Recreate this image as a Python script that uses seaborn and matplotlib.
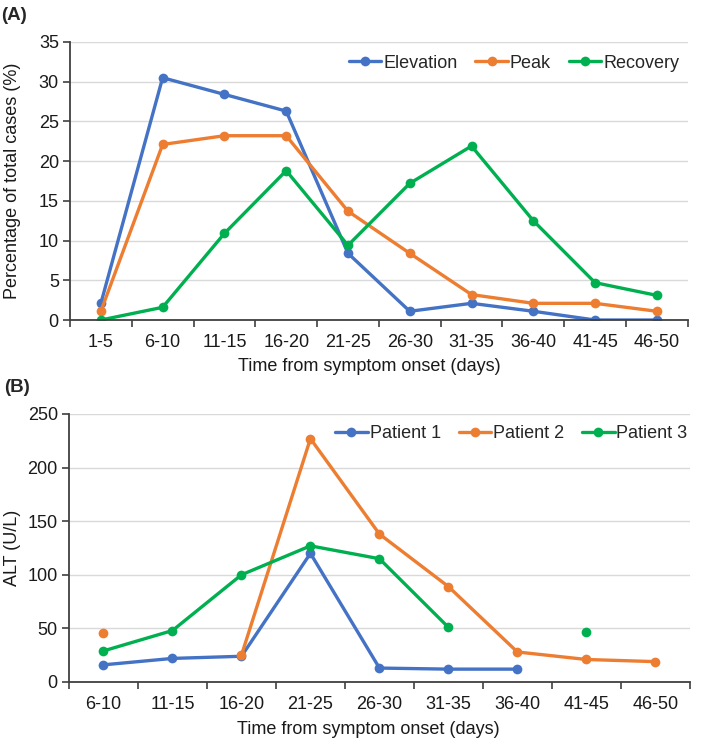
import numpy as np
import pandas as pd
import matplotlib.pyplot as plt
import seaborn as sns

# Panel A data
bins_a = ['1-5', '6-10', '11-15', '16-20', '21-25', '26-30', '31-35', '36-40', '41-45', '46-50']
elevation = [2.1, 30.5, 28.4, 26.3, 8.4, 1.1, 2.1, 1.1, 0, 0]
peak = [1.1, 22.1, 23.2, 23.2, 13.7, 8.4, 3.2, 2.1, 2.1, 1.1]
recovery = [0, 1.6, 10.9, 18.8, 9.4, 17.2, 21.9, 12.5, 4.7, 3.1]

# Panel B data (NaN = no measurement)
bins_b = ['6-10', '11-15', '16-20', '21-25', '26-30', '31-35', '36-40', '41-45', '46-50']
patient1 = [16, 22, 24, 120, 13, 12, 12, np.nan, np.nan]
patient2 = [46, np.nan, 25, 227, 138, 89, 28, 21, 19]
patient3 = [29, 48, 100, 127, 115, 51, np.nan, 47, np.nan]

colors = ['#4472C4', '#ED7D31', '#00B050']

sns.set_theme(style='whitegrid')
plt.rcParams['font.family'] = ['Liberation Sans', 'DejaVu Sans']


def long_form(bins, series):
    rows = []
    for name, vals in series.items():
        seg = 0
        for i, v in enumerate(vals):
            if np.isnan(v):
                seg += 1
                continue
            rows.append({'x': i, 'y': v, 'series': name, 'seg': f'{name}-{seg}'})
    return pd.DataFrame(rows)


def style_axis(ax, bins, ymax, ystep, ylabel):
    n = len(bins)
    ax.set_xlim(-0.5, n - 0.5)
    ax.set_ylim(0, ymax)
    ax.set_yticks(np.arange(0, ymax + 1, ystep))
    ax.set_xticks(np.arange(-0.5, n, 1))
    ax.set_xticklabels([])
    ax.set_xticks(np.arange(n), minor=True)
    ax.set_xticklabels(bins, minor=True)
    ax.tick_params(axis='x', which='major', length=5, width=1.2, color='#404040', direction='out', bottom=True)
    ax.tick_params(axis='x', which='minor', length=0, labelsize=13, pad=10, labelcolor='#1a1a1a')
    ax.tick_params(axis='y', length=5, width=1.2, color='#404040', left=True, labelsize=13, labelcolor='#1a1a1a', pad=3)
    ax.grid(axis='x', visible=False)
    ax.grid(axis='y', color='#D9D9D9', linewidth=1.0)
    for s in ['top', 'right']:
        ax.spines[s].set_visible(False)
    for s in ['left', 'bottom']:
        ax.spines[s].set_color('#404040')
        ax.spines[s].set_linewidth(1.3)
    ax.set_xlabel('Time from symptom onset (days)', fontsize=13, color='#1a1a1a')
    ax.set_ylabel(ylabel, fontsize=13, color='#1a1a1a')
    ax.set_facecolor('white')


fig = plt.figure(figsize=(7.09, 7.43), dpi=100)
fig.patch.set_facecolor('white')
ax_a = fig.add_axes([0.0987, 0.5693, 0.8713, 0.3742])
ax_b = fig.add_axes([0.0973, 0.0821, 0.8757, 0.3607])

df_a = long_form(bins_a, {'Elevation': elevation, 'Peak': peak, 'Recovery': recovery})
sns.lineplot(data=df_a, x='x', y='y', hue='series', units='seg', estimator=None,
             palette=colors, marker='o', markersize=7, markeredgewidth=0,
             linewidth=2.4, ax=ax_a)
style_axis(ax_a, bins_a, 35, 5, 'Percentage of total cases (%)')
ax_a.legend(loc='upper right', bbox_to_anchor=(0.998, 0.98), ncol=3, frameon=False,
            fontsize=13, handlelength=1.8, handletextpad=0.1, columnspacing=1.0,
            borderaxespad=0)
ax_a.yaxis.set_label_coords(-0.08, 0.5)
ax_a.xaxis.set_label_coords(0.484, -0.135)

df_b = long_form(bins_b, {'Patient 1': patient1, 'Patient 2': patient2, 'Patient 3': patient3})
sns.lineplot(data=df_b, x='x', y='y', hue='series', units='seg', estimator=None,
             palette=colors, marker='o', markersize=7, markeredgewidth=0,
             linewidth=2.4, ax=ax_b)
style_axis(ax_b, bins_b, 250, 50, 'ALT (U/L)')
ax_b.legend(loc='upper right', bbox_to_anchor=(1.008, 0.985), ncol=3, frameon=False,
            fontsize=13, handlelength=1.8, handletextpad=0.1, columnspacing=1.0,
            borderaxespad=0)
ax_b.yaxis.set_label_coords(-0.077, 0.5)
ax_b.xaxis.set_label_coords(0.482, -0.145)

fig.text(0.002, 0.979, '(A)', fontsize=13.5, fontweight='bold', va='center', ha='left')
fig.text(0.006, 0.478, '(B)', fontsize=13.5, fontweight='bold', va='center', ha='left')

fig.savefig('out.png', dpi=100, facecolor='white')
